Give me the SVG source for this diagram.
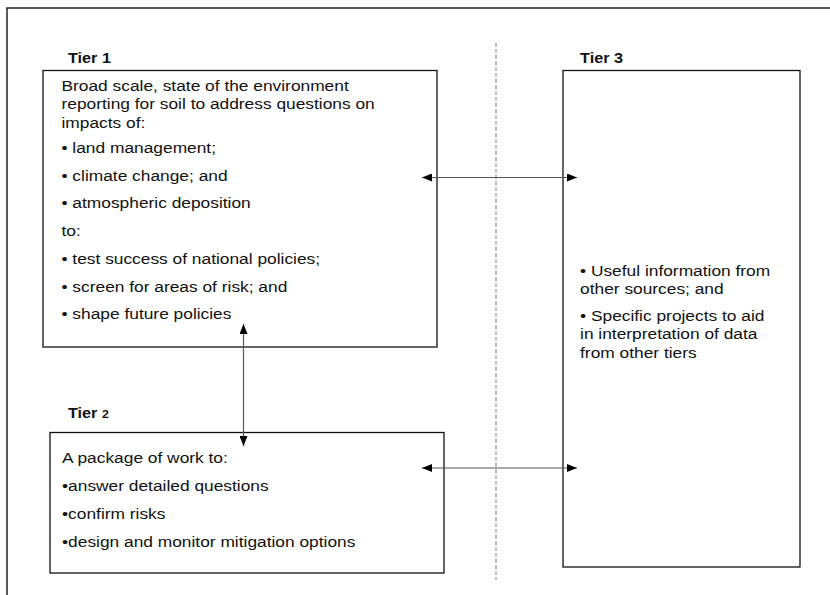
<svg xmlns="http://www.w3.org/2000/svg" width="830" height="595" viewBox="0 0 830 595">
  <style>
    .frame { fill: none; stroke: #000; stroke-width: 1.3; }
    .box { fill: #fff; stroke: #111; stroke-width: 1.3; }
    .divider { fill: none; stroke: #777; stroke-width: 1; stroke-dasharray: 4 2; }
    .link { fill: none; stroke: #555; stroke-width: 1.2; }
    .label { font-family: "Liberation Sans", Arial, sans-serif; font-size: 14.5px; font-weight: bold; fill: #111; }
    .body { font-family: "Liberation Sans", Arial, sans-serif; font-size: 15.5px; fill: #111; }
  </style>
  <defs>
    <marker id="head" viewBox="0 0 10 8" refX="10" refY="4" markerWidth="10" markerHeight="8" markerUnits="userSpaceOnUse" orient="auto-start-reverse">
      <path d="M0,0 L10,4 L0,8 Z" fill="#000"/>
    </marker>
  </defs>

  <!-- page frame -->
  <rect class="frame" x="7" y="8" width="830" height="600"/>

  <!-- divider between tiers 1/2 and tier 3 -->
  <line class="divider" x1="496" y1="43" x2="496" y2="580"/>

  <!-- Tier 1 -->
  <g id="tier1">
    <text class="label" transform="scale(1.12 1)" x="60.7" y="63">Tier 1</text>
    <rect class="box" x="43" y="70.5" width="394" height="276.5"/>
    <text class="body" transform="scale(1.12 1)">
      <tspan x="54.9" y="91">Broad scale, state of the environment</tspan>
      <tspan x="54.9" y="109.5">reporting for soil to address questions on</tspan>
      <tspan x="54.9" y="128">impacts of:</tspan>
      <tspan x="54.9" y="153">• land management;</tspan>
      <tspan x="54.9" y="181">• climate change; and</tspan>
      <tspan x="54.9" y="208.5">• atmospheric deposition</tspan>
      <tspan x="54.9" y="236">to:</tspan>
      <tspan x="54.9" y="264">• test success of national policies;</tspan>
      <tspan x="54.9" y="292">• screen for areas of risk; and</tspan>
      <tspan x="54.9" y="319.5">• shape future policies</tspan>
    </text>
  </g>

  <!-- Tier 2 -->
  <g id="tier2">
    <text class="label" transform="scale(1.12 1)" x="60.7" y="418">Tier <tspan font-size="11px">2</tspan></text>
    <rect class="box" x="50" y="432.5" width="394" height="140.5"/>
    <text class="body" transform="scale(1.12 1)">
      <tspan x="55.4" y="463">A package of work to:</tspan>
      <tspan x="55.4" y="491">•answer detailed questions</tspan>
      <tspan x="55.4" y="519">•confirm risks</tspan>
      <tspan x="55.4" y="547">•design and monitor mitigation options</tspan>
    </text>
  </g>

  <!-- Tier 3 -->
  <g id="tier3">
    <text class="label" transform="scale(1.12 1)" x="517.9" y="63">Tier 3</text>
    <rect class="box" x="563" y="70.5" width="237" height="496.5"/>
    <text class="body" transform="scale(1.12 1)">
      <tspan x="517.9" y="276">• Useful information from</tspan>
      <tspan x="517.9" y="294.5">other sources; and</tspan>
      <tspan x="517.9" y="321">• Specific projects to aid</tspan>
      <tspan x="517.9" y="339.5">in interpretation of data</tspan>
      <tspan x="517.9" y="358">from other tiers</tspan>
    </text>
  </g>

  <!-- two-way links between tiers -->
  <g id="connectors">
    <line class="link" x1="422" y1="177.5" x2="577" y2="177.5" marker-start="url(#head)" marker-end="url(#head)"/>
    <line class="link" x1="422" y1="468" x2="577" y2="468" marker-start="url(#head)" marker-end="url(#head)"/>
    <line class="link" x1="243.5" y1="324" x2="243.5" y2="446" marker-start="url(#head)" marker-end="url(#head)"/>
  </g>
</svg>
